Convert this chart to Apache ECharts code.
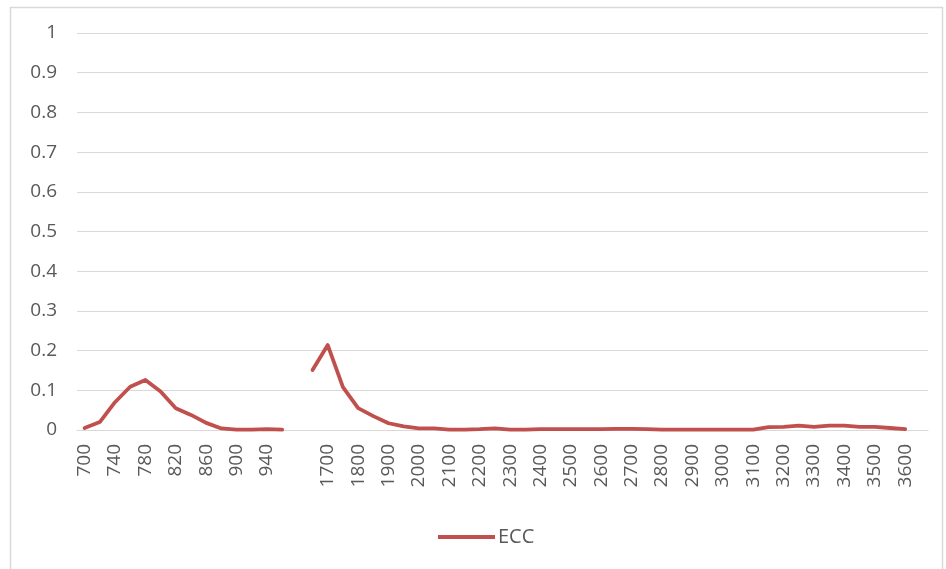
<!DOCTYPE html>
<html>
<head>
<meta charset="utf-8">
<title>ECC</title>
<script src="https://cdn.jsdelivr.net/npm/echarts@6/dist/echarts.min.js"></script>
<style>
  html, body { margin: 0; padding: 0; background: #ffffff; }
  #chart { width: 946px; height: 569px; }
</style>
</head>
<body>
<div id="chart"></div>
<script>
// Wavelength categories: low band, an empty spacer, then the high band
const lowBand = ['700','720','740','760','780','800','820','840','860','880','900','920','940','960'];
const spacer = [''];
const highBand = ['1650','1700','1750','1800','1850','1900','1950','2000','2050','2100','2150','2200','2250',
  '2300','2350','2400','2450','2500','2550','2600','2650','2700','2750','2800','2850','2900','2950','3000',
  '3050','3100','3150','3200','3250','3300','3350','3400','3450','3500','3550','3600','3650'];

// ECC values for each band
const lowValues = [0.005, 0.02, 0.07, 0.109, 0.126, 0.097, 0.055, 0.038, 0.018, 0.004, 0.001, 0.001, 0.002, 0.001];
const spacerValues = [null];
const highValues = [0.151, 0.214, 0.108, 0.055, 0.035, 0.017, 0.009, 0.004, 0.004, 0.001, 0.001, 0.002, 0.004,
  0.001, 0.001, 0.002, 0.002, 0.002, 0.002, 0.002, 0.003, 0.003, 0.002, 0.001, 0.001, 0.001, 0.001, 0.001,
  0.001, 0.001, 0.007, 0.008, 0.011, 0.008, 0.011, 0.011, 0.008, 0.008, 0.005, 0.002, null];

// Y axis ticks
const yTicks = ['0','0.1','0.2','0.3','0.4','0.5','0.6','0.7','0.8','0.9','1'];

const categories = lowBand.concat(spacer, highBand);
const values = lowValues.concat(spacerValues, highValues);

const chart = echarts.init(document.getElementById('chart'));
const textFont = "'Open Sans', 'Liberation Sans', sans-serif";
chart.setOption({
  animation: false,
  backgroundColor: '#ffffff',
  graphic: [{
    type: 'rect',
    left: 8, top: 5,
    shape: { width: 932, height: 580 },
    style: { fill: 'none', stroke: '#d9d9d9', lineWidth: 1.5 },
    silent: true
  }],
  grid: { left: 77, right: 18, top: 33, bottom: 139, containLabel: false },
  legend: {
    data: ['ECC'],
    top: 522,
    left: 433,
    itemWidth: 57,
    itemHeight: 4,
    itemGap: 4,
    icon: 'rect',
    textStyle: { color: '#595959', fontSize: 20, fontFamily: textFont, padding: [0, 0, 0, -2] }
  },
  xAxis: {
    type: 'category',
    data: categories,
    boundaryGap: true,
    axisLine: { lineStyle: { color: '#d9d9d9', width: 1 } },
    axisTick: { show: false },
    axisLabel: {
      interval: 1,
      rotate: 90,
      color: '#595959',
      fontSize: 19,
      fontFamily: textFont,
      margin: 14
    },
    splitLine: { show: false }
  },
  yAxis: {
    type: 'value',
    min: 0,
    max: 1,
    interval: 0.1,
    axisLine: { show: false },
    axisTick: { show: false },
    axisLabel: {
      color: '#595959',
      fontSize: 19,
      fontFamily: textFont,
      margin: 20,
      formatter: function (v) { return yTicks[Math.round(v * 10)]; }
    },
    splitLine: { lineStyle: { color: '#d9d9d9', width: 1 } }
  },
  series: [{
    name: 'ECC',
    type: 'line',
    data: values,
    connectNulls: false,
    showSymbol: false,
    symbol: 'none',
    color: '#C0504D',
    lineStyle: { color: '#C0504D', width: 3.8, join: 'round', cap: 'round' }
  }]
});
</script>
</body>
</html>
